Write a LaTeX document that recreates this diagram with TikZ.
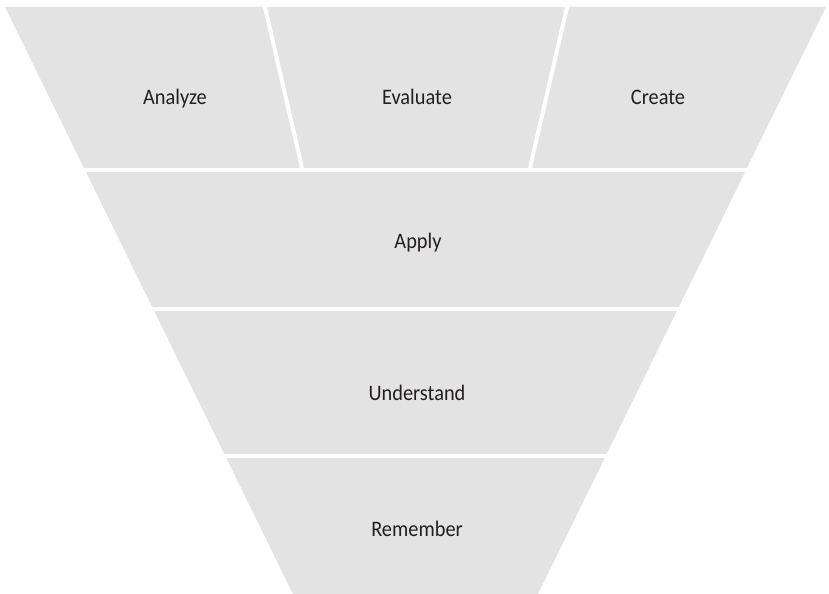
\documentclass[tikz,border=0pt]{standalone}
\usepackage{fontspec}
\setmainfont{Carlito}[FakeStretch=0.92]
\usetikzlibrary{positioning}
\definecolor{funnelgray}{HTML}{E3E3E3}
\definecolor{labelgray}{HTML}{231F20}

\begin{document}
\begin{tikzpicture}[x=0.02cm, y=-0.02cm,
    level/.style={fill=funnelgray},
    gap/.style={draw=white, line width=0.08cm},
    lbl/.style={text=labelgray, font=\fontsize{12.6}{14}\selectfont, anchor=base}]
    \useasboundingbox (0,0) rectangle (829,594);

    % Draw funnel
    \fill[level] (5,7) -- (826,7) -- (538,594) -- (293,594) -- cycle;

    % Gaps between the levels
    \foreach \y in {170.5, 309, 456} {
      \draw[gap] (0,\y) -- (829,\y);
    }
    % Dividers of the top level
    \draw[gap] (264.5,5) -- (302.5,170);
    \draw[gap] (567.5,5) -- (529.5,170);

    % Labels
    \foreach \name/\x/\y/\txt in {analyze/175/105/Analyze, evaluate/417/105/Evaluate,
      create/658/105/Create, apply/418/249/Apply, understand/417/401/Understand,
      remember/417/537/Remember} {
      \node[lbl] (\name) at (\x,\y) {\txt};
    }
\end{tikzpicture}
\end{document}
